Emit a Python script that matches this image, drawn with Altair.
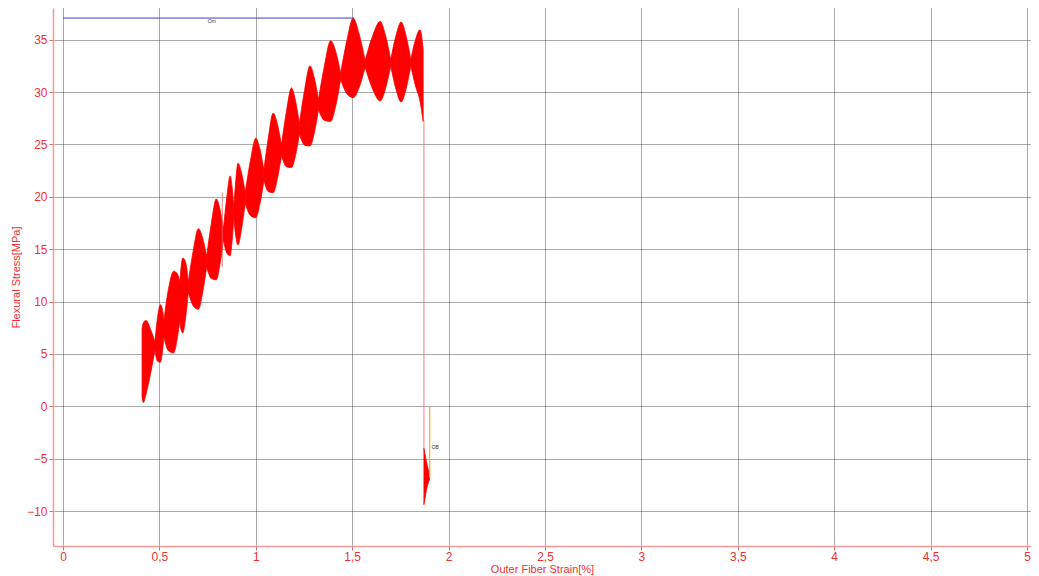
import altair as alt
import pandas as pd

# ---- data (strain %, stress MPa) ----
lobe = ([1]*5 + [2]*5 + [3]*5 + [4]*5 + [5]*5 + [6]*5 + [7]*5 + [8]*5 + [9]*5 +
        [10]*5 + [11]*5 + [12]*5 + [13]*5 + [14]*5 + [15]*5 + [16]*5 + [17]*4 + [18]*3)
strain = [0.410, 0.417, 0.431, 0.455, 0.478,
          0.476, 0.4905, 0.505, 0.515, 0.525,
          0.520, 0.547, 0.574, 0.5945, 0.615,
          0.600, 0.6105, 0.621, 0.6355, 0.650,
          0.650, 0.676, 0.702, 0.7235, 0.745,
          0.745, 0.770, 0.795, 0.8135, 0.832,
          0.832, 0.8495, 0.867, 0.8765, 0.886,
          0.886, 0.8965, 0.907, 0.926, 0.945,
          0.945, 0.9725, 1.000, 1.021, 1.042,
          1.042, 1.066, 1.090, 1.1115, 1.133,
          1.133, 1.159, 1.185, 1.2055, 1.226,
          1.226, 1.2535, 1.281, 1.303, 1.325,
          1.325, 1.3565, 1.388, 1.414, 1.440,
          1.440, 1.4725, 1.505, 1.536, 1.567,
          1.567, 1.606, 1.645, 1.6725, 1.700,
          1.700, 1.727, 1.754, 1.779, 1.804,
          1.804, 1.828, 1.852, 1.868,
          1.872, 1.890, 1.901]
upper = [7.4, 8.0, 8.2, 7.3, 6.1,
         6.0, 8.5, 9.7, 9.3, 7.8,
         7.7, 11.2, 12.9, 12.6, 10.8,
         10.3, 12.9, 14.15, 13.8, 11.9,
         11.9, 14.92, 16.95, 16.12, 14.3,
         14.3, 17.55, 19.8, 18.85, 16.9,
         16.9, 19.96, 22.0, 21.0, 19.0,
         19.0, 21.6, 23.2, 22.3, 20.4,
         20.4, 23.5, 25.6, 24.58, 22.55,
         22.55, 25.78, 28.0, 26.98, 24.95,
         24.95, 28.18, 30.4, 29.2, 27.0,
         27.0, 30.25, 32.5, 31.4, 29.3,
         29.3, 32.56, 34.9, 33.91, 31.8,
         31.8, 34.94, 37.07, 35.54, 33.0,
         33.0, 35.38, 36.75, 35.43, 33.1,
         33.1, 35.4, 36.7, 35.4, 33.1,
         33.1, 35.0, 35.95, 34.1,
         -4.0, -5.7, -6.5]
lower = [0.9, 0.35, 1.2, 3.2, 5.5,
         5.4, 4.3, 4.2, 5.1, 6.9,
         6.9, 5.3, 5.1, 6.7, 9.8,
         9.3, 7.5, 7.0, 8.4, 10.9,
         10.9, 9.58, 9.26, 10.78, 13.3,
         13.3, 12.19, 12.07, 13.49, 15.9,
         15.9, 14.64, 14.37, 15.69, 18.0,
         18.0, 16.2, 15.4, 16.9, 19.4,
         19.4, 18.2, 18.0, 19.28, 21.55,
         21.55, 20.48, 20.4, 21.68, 23.95,
         23.95, 22.88, 22.8, 23.9, 26.0,
         26.0, 24.93, 24.85, 26.08, 28.3,
         28.3, 27.3, 27.2, 28.65, 31.2,
         31.2, 29.84, 29.47, 30.44, 32.4,
         32.4, 30.28, 29.15, 30.33, 32.5,
         32.5, 30.28, 29.05, 30.28, 32.5,
         32.5, 30.6, 29.1, 27.2,
         -9.4, -7.6, -7.0]

# thin vertical strokes (strain, top, bottom)
thin_x = [0.826, 1.872]
thin_top = [20.4, 27.3]
thin_bottom = [13.3, -4.0]

# markers
om_x = [0.0, 1.51]
om_y = 37.07
ob_x = 1.902
ob_top, ob_bottom = 0.0, -6.8
label_text = ["Om", "OB"]
label_x = [0.772, 1.912]
label_y = [36.75, -3.9]

x_ticks = [0, 0.5, 1, 1.5, 2, 2.5, 3, 3.5, 4, 4.5, 5]
y_ticks = [-10, -5, 0, 5, 10, 15, 20, 25, 30, 35]

RED = "#ff0000"
LABEL_RED = "#f03030"
FONT = "Liberation Sans"

df = pd.DataFrame({"lobe": lobe, "strain": strain, "upper": upper, "lower": lower})
thin_df = pd.DataFrame({"strain": thin_x, "top": thin_top, "bottom": thin_bottom})
om_df = pd.DataFrame({"x1": [om_x[0]], "x2": [om_x[1]], "y": [om_y]})
ob_df = pd.DataFrame({"x": [ob_x], "top": [ob_top], "bottom": [ob_bottom]})
lab_df = pd.DataFrame({"x": label_x, "y": label_y, "t": label_text})

xscale = alt.Scale(domain=[-0.0519, 5.0207], nice=False, zero=False)
yscale = alt.Scale(domain=[-13.34, 38.03], nice=False, zero=False)

xaxis = alt.Axis(values=x_ticks,
                 labelExpr="replace(format(datum.value, ''), '.', ',')",
                 title="Outer Fiber Strain[%]", grid=True)
yaxis = alt.Axis(values=y_ticks, title="Flexural Stress[MPa]", grid=True)

band = alt.Chart(df).mark_area(color=RED, interpolate="monotone", stroke=RED,
                               strokeWidth=0.8).encode(
    x=alt.X("strain:Q", scale=xscale, axis=xaxis),
    y=alt.Y("upper:Q", scale=yscale, axis=yaxis),
    y2="lower:Q",
    detail="lobe:N",
)

thin = alt.Chart(thin_df).mark_rule(color="#f06060", strokeWidth=1, opacity=0.8).encode(
    x="strain:Q", y="top:Q", y2="bottom:Q")

om = alt.Chart(om_df).mark_rule(color="#3a42c4", strokeWidth=1).encode(
    x="x1:Q", x2="x2:Q", y="y:Q")

ob = alt.Chart(ob_df).mark_rule(color="#f0b030", strokeWidth=1.2).encode(
    x="x:Q", y="top:Q", y2="bottom:Q")

om_label = alt.Chart(lab_df.iloc[[0]]).mark_text(
    fontSize=5, color="#333333", align="center", baseline="middle", font=FONT
).encode(x="x:Q", y="y:Q", text="t:N")
ob_label = alt.Chart(lab_df.iloc[[1]]).mark_text(
    fontSize=5, color="#333333", align="left", baseline="middle", font=FONT
).encode(x="x:Q", y="y:Q", text="t:N")

chart = alt.layer(band, thin, om, ob, om_label, ob_label).properties(
    width=978, height=538,
    autosize=alt.AutoSizeParams(type="none"),
    padding={"left": 45, "top": 0, "right": 0, "bottom": 30},
).configure_view(stroke=None).configure_axis(
    domainColor="#f09a9a", domainWidth=1.5,
    tickColor="#f06060", tickSize=4,
    labelColor=LABEL_RED, labelFont=FONT, labelFontSize=12,
    titleColor=LABEL_RED, titleFont=FONT, titleFontSize=11, titleFontWeight="normal",
    gridColor="#2a2a2a", gridDash=[1, 1], gridWidth=1, gridOpacity=0.8,
).configure_axisX(labelPadding=1, titlePadding=1).configure_axisY(
    labelPadding=2, titlePadding=5)

chart.save("out.html", embed_options={"renderer": "svg", "actions": False})
